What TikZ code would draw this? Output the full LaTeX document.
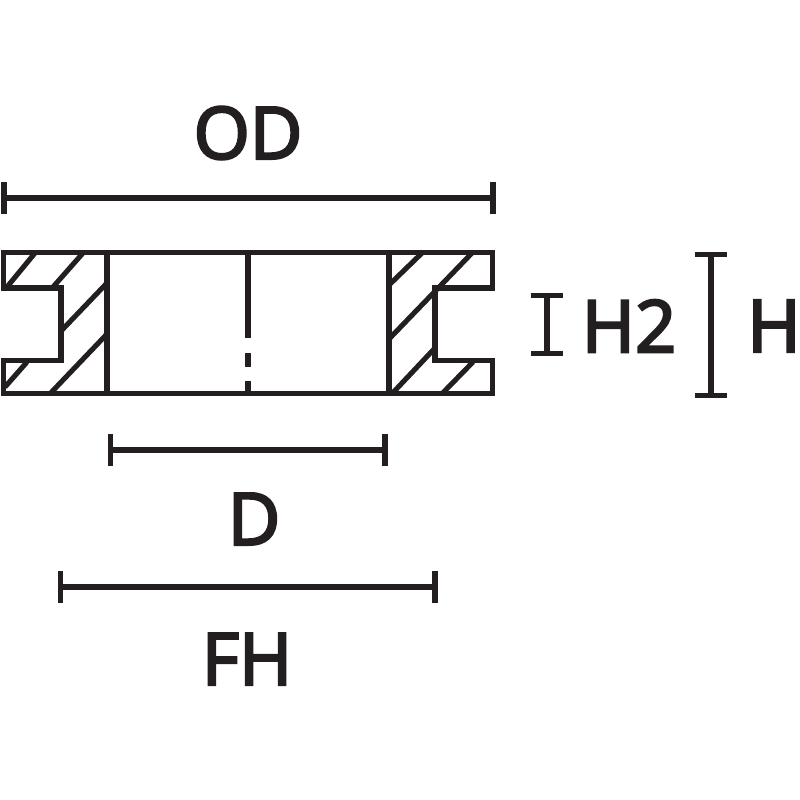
\documentclass[tikz,border=0pt]{standalone}
\usepackage{fontspec}
\setmainfont[FakeBold=3.5]{Open Sans}
\usetikzlibrary{arrows.meta}
\definecolor{inkblack}{HTML}{231F20}

\begin{document}
\begin{tikzpicture}[x=0.01cm, y=-0.01cm, line cap=butt, inkblack]
	\tikzstyle{outline}=[line width=1.5pt, line join=miter]
	\tikzstyle{hatch}=[line width=1.45pt]
	\tikzstyle{dimline}=[line width=1.45pt, {Bar[width=0.32cm,line width=1.5pt]}-{Bar[width=0.32cm,line width=1.5pt]}]
	\tikzstyle{dimlabel}=[inner sep=0pt, text=inkblack, font=\fontsize{20.5}{24}\selectfont]

	\useasboundingbox (0, 0) rectangle (800, 800);

	% labels
	\node[dimlabel] at (248, 133) (OD)  {OD};
	\node[dimlabel] at (629, 326) (H2)  {H2};
	\node[dimlabel] at (774, 326) (H)   {H};
	\node[dimlabel] at (254, 519) (D)   {D};
	\node[dimlabel] at (247, 659) (FH)  {FH};

	% ends of the dimension lines
	\coordinate (ODa) at (1.5, 198);
	\coordinate (ODb) at (495.5, 198);
	\coordinate (H2a) at (547, 293);
	\coordinate (H2b) at (547, 356);
	\coordinate (Ha)  at (711, 252);
	\coordinate (Hb)  at (711, 398);
	\coordinate (Da)  at (107.5, 450);
	\coordinate (Db)  at (387.5, 450);
	\coordinate (FHa) at (57.5, 587);
	\coordinate (FHb) at (437.5, 587);

	\draw[dimline] (ODa) -- (ODb);
	\draw[dimline] (H2a) -- (H2b);
	\draw[dimline] (Ha) -- (Hb);
	\draw[dimline] (Da) -- (Db);
	\draw[dimline] (FHa) -- (FHb);

	% section outline
	\draw[outline] (3.7, 252.7) -- (492.7, 252.7) -- (492.7, 288) -- (435, 288) -- (435, 360.7)
		-- (492.7, 360.7) -- (492.7, 393.7) -- (3.7, 393.7) -- (3.7, 360.7) -- (61, 360.7)
		-- (61, 288) -- (3.7, 288) -- cycle;
	\draw[outline] (107, 252.7) -- (107, 393.7);
	\draw[outline] (389, 252.7) -- (389, 393.7);

	% centre line
	\draw[hatch] (248, 252.7) -- (248, 338);
	\draw[hatch] (248, 353) -- (248, 367);
	\draw[hatch] (248, 381) -- (248, 393.7);

	% hatching, left
	\draw[hatch] (7, 287) -- (35, 253);
	\draw[hatch] (53, 287) -- (83, 253);
	\draw[hatch] (62, 330) -- (107, 283);
	\draw[hatch] (50, 393.7) -- (107, 334);
	\draw[hatch] (5, 387) -- (27, 362);

	% hatching, right
	\draw[hatch] (389, 285) -- (422, 253);
	\draw[hatch] (389, 339) -- (472, 253);
	\draw[hatch] (392, 393.7) -- (435, 348);
	\draw[hatch] (442, 393.7) -- (473, 362);
\end{tikzpicture}
\end{document}
